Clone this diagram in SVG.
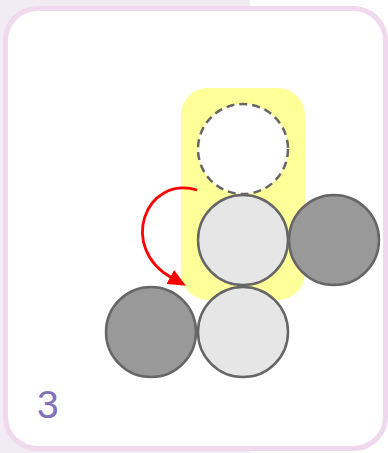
<svg xmlns="http://www.w3.org/2000/svg" width="388" height="453" viewBox="0 0 388 453">
<defs>
<style>
.ball{stroke:#666666;stroke-width:2.5}
.light{fill:#e6e6e6}
.dark{fill:#999999}
</style>
<marker id="ah" markerWidth="18" markerHeight="16" refX="2" refY="8" orient="auto" markerUnits="userSpaceOnUse">
<path d="M0,0 L18,8 L0,16 Z" fill="#ff0000"/>
</marker>
</defs>
<rect x="0" y="0" width="388" height="453" fill="#ffffff"/>
<rect x="0" y="0" width="250" height="453" fill="#f1ebf4"/>
<rect id="card" x="5.5" y="8.5" width="380" height="440" rx="32" fill="#ffffff" stroke="#f0d8ed" stroke-width="5"/>
<rect id="highlight" x="181" y="88" width="124" height="212" rx="27" fill="#ffff99"/>
<g id="empty"><circle cx="243" cy="149" r="45" fill="#ffffff" stroke="#666666" stroke-width="2.5" stroke-dasharray="8,5"/></g>
<g id="c1"><circle class="ball light" cx="243" cy="240" r="45"/></g>
<g id="c2"><circle class="ball dark" cx="334" cy="240" r="45"/></g>
<g id="c3"><circle class="ball light" cx="243" cy="332" r="45"/></g>
<g id="c4"><circle class="ball dark" cx="151" cy="332" r="45"/></g>
<g id="connectors"><path d="M197,190 C145,175 118,248 172,278" fill="none" stroke="#ff0000" stroke-width="2.8" marker-end="url(#ah)"/></g>
<text x="37" y="418" font-family="Liberation Sans, Arial, sans-serif" font-size="39" fill="#7f72b8">3</text>
</svg>
